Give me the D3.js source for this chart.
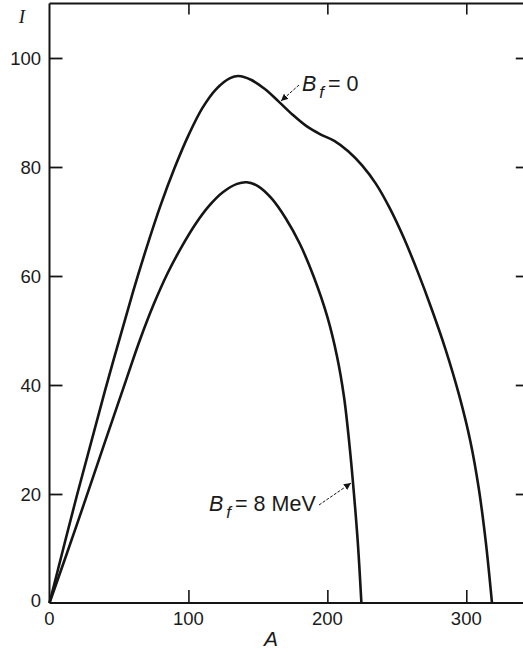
<!DOCTYPE html>
<html><head><meta charset="utf-8">
<script src="https://cdn.jsdelivr.net/npm/d3@7"></script>
<style>
html,body{margin:0;padding:0;background:#fff;}
svg{display:block;}
text{font-family:"Liberation Sans",Arial,sans-serif;fill:#1a1a1a;}
</style></head>
<body><svg id="c" width="523" height="652"></svg>
<script>
// Data
const massA0 = [0, 20, 40, 60, 70, 80, 90, 100, 110, 120, 130, 136, 145, 155, 165, 175, 185, 195, 205, 215, 225, 235, 245, 255, 265, 275, 285, 295, 303, 309, 314, 318.5];
const yieldB0 = [0, 20, 39, 57, 65.3, 73, 79.8, 85.8, 90.8, 94.3, 96.3, 96.7, 96, 94.3, 92, 89.6, 87.5, 86, 84.8, 82.9, 80.3, 76.9, 72.4, 67, 60.8, 54, 46.6, 38, 29.6, 21, 11.3, 0];
const massA8 = [0, 20, 40, 55, 65, 75, 85, 95, 105, 115, 125, 135, 142, 150, 160, 170, 180, 190, 200, 207, 212, 216, 219, 222, 224.5];
const yieldB8 = [0, 14.6, 29.6, 40.8, 48.2, 54.8, 60.5, 65.3, 69.5, 72.9, 75.4, 76.9, 77.2, 76.5, 74.2, 70.6, 66, 60, 52.5, 45.2, 37.8, 28.8, 20.5, 10.8, 0];
const xTicks = [0, 100, 200, 300];
const yTicks = [0, 20, 40, 60, 80, 100];
const labelB0 = ["B", "f", "= 0"];
const labelB8 = ["B", "f", "= 8 MeV"];

const svg = d3.select("#c");
const x = d3.scaleLinear().domain([0, 345]).range([49.5, 528.8]);
const y = d3.scaleLinear().domain([0, 110]).range([603, 3.5]);

const ink = "#151515";
// frame: left, top, bottom
svg.append("line").attr("x1", x(0)).attr("x2", x(0)).attr("y1", y(110)).attr("y2", y(0)).attr("stroke", ink).attr("stroke-width", 2);
svg.append("line").attr("x1", x(0)).attr("x2", 523).attr("y1", y(110)).attr("y2", y(110)).attr("stroke", ink).attr("stroke-width", 1.8);
svg.append("line").attr("x1", x(0)).attr("x2", 523).attr("y1", y(0)).attr("y2", y(0)).attr("stroke", ink).attr("stroke-width", 2);

// left axis (inward ticks)
const yl = d3.axisRight(y).tickValues(yTicks).tickSize(13).tickFormat("");
const gl = svg.append("g").attr("transform", `translate(${x(0)},0)`).call(yl);
gl.select(".domain").remove();
gl.selectAll(".tick line").attr("stroke", ink).attr("stroke-width", 1.8);
gl.selectAll(".tick").filter(d => d === 0).remove();
svg.append("g").selectAll("text").data(yTicks).join("text")
  .attr("x", 41).attr("y", d => y(d) + (d === 0 ? -3 : 0)).attr("dy", "0.36em")
  .attr("text-anchor", "end").attr("font-size", 18.5).text(d => d);

// right side ticks
const yr = d3.axisLeft(y).tickValues(yTicks.filter(d => d > 0)).tickSize(13).tickFormat("");
const gr = svg.append("g").attr("transform", `translate(${x(345)},0)`).call(yr);
gr.select(".domain").remove();
gr.selectAll(".tick line").attr("stroke", ink).attr("stroke-width", 1.8);

// bottom axis
const xb = d3.axisTop(x).tickValues(xTicks.filter(d => d > 0)).tickSize(13).tickFormat("");
const gb = svg.append("g").attr("transform", `translate(0,${y(0)})`).call(xb);
gb.select(".domain").remove();
gb.selectAll(".tick line").attr("stroke", ink).attr("stroke-width", 1.6);
svg.append("g").selectAll("text").data(xTicks).join("text")
  .attr("x", d => x(d)).attr("y", 625).attr("text-anchor", "middle").attr("font-size", 18.5).text(d => d);

// top ticks
const xt = d3.axisBottom(x).tickValues(xTicks.filter(d => d > 0)).tickSize(11).tickFormat("");
const gt = svg.append("g").attr("transform", `translate(0,${y(110)})`).call(xt);
gt.select(".domain").remove();
gt.selectAll(".tick line").attr("stroke", ink).attr("stroke-width", 1.6);

// axis titles
svg.append("text").attr("x", 271).attr("y", 646).attr("text-anchor", "middle")
  .attr("font-size", 21).attr("font-style", "italic").text("A");
svg.append("text").attr("x", 22).attr("y", 23).attr("text-anchor", "middle")
  .attr("font-size", 19).attr("font-style", "italic").style("font-family", "'Liberation Serif','Times New Roman',serif").text("I");

// curves
const line = d3.line().x(d => x(d[0])).y(d => y(d[1])).curve(d3.curveCatmullRom.alpha(0.5));
const s0 = massA0.map((a, i) => [a, yieldB0[i]]);
const s8 = massA8.map((a, i) => [a, yieldB8[i]]);
[s0, s8].forEach(s => {
  svg.append("path").attr("d", line(s)).attr("fill", "none").attr("stroke", ink)
    .attr("stroke-width", 2.6).attr("stroke-linejoin", "round");
});

// annotations
svg.append("defs").append("marker").attr("id", "ah").attr("viewBox", "0 0 10 10")
  .attr("refX", 10).attr("refY", 5).attr("markerWidth", 7).attr("markerHeight", 7)
  .attr("markerUnits", "userSpaceOnUse").attr("orient", "auto")
  .append("path").attr("d", "M0,0 L10,5 L0,10 z").attr("fill", ink);

function label(xp, yp, parts) {
  const t = svg.append("text").attr("x", xp).attr("y", yp).attr("font-size", 21.5);
  t.append("tspan").attr("font-style", "italic").text(parts[0]);
  t.append("tspan").attr("font-style", "italic").attr("font-size", 17).attr("dx", 3).attr("dy", 7).text(parts[1]);
  t.append("tspan").attr("dy", -7).attr("dx", 4).text(parts[2]);
}
label(302, 91, labelB0);
label(209, 511, labelB8);

svg.append("line").attr("x1", 299).attr("y1", 85).attr("x2", 281).attr("y2", 101)
  .attr("stroke", ink).attr("stroke-width", 1).attr("stroke-dasharray", "3,1.5").attr("marker-end", "url(#ah)");
svg.append("line").attr("x1", 319).attr("y1", 505).attr("x2", x(217)).attr("y2", y(22))
  .attr("stroke", ink).attr("stroke-width", 1).attr("stroke-dasharray", "3,1.5").attr("marker-end", "url(#ah)");
</script></body></html>
